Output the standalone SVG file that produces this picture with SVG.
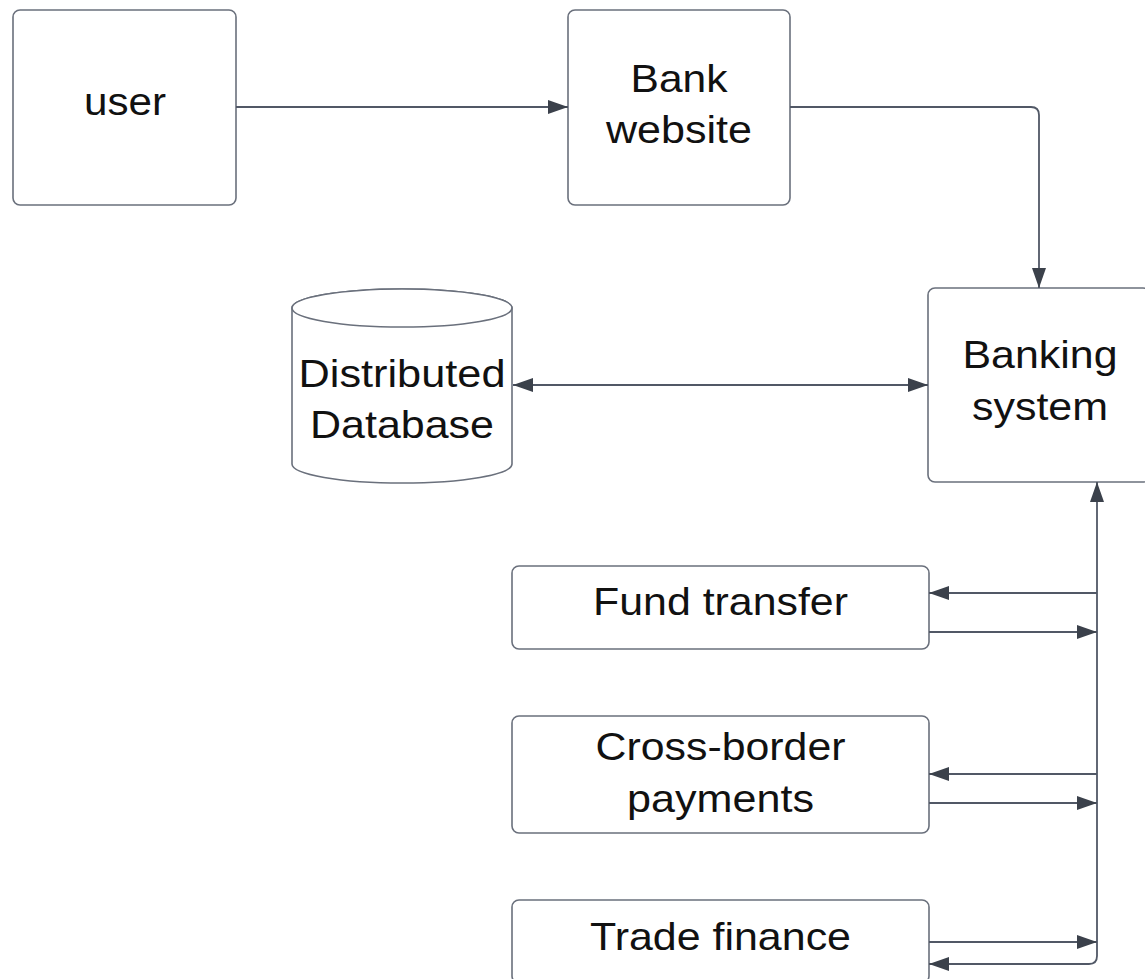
<svg xmlns="http://www.w3.org/2000/svg" width="1145" height="979" viewBox="0 0 1145 979">
  <style>
    .box { fill: #ffffff; stroke: #6a707c; stroke-width: 1.6; }
    .lbl { font-family: "Liberation Sans", Arial, sans-serif; font-size: 39px; fill: #111111; text-anchor: middle; }
    .wire { fill: none; stroke: #515866; stroke-width: 1.8; }
  </style>
  <defs>
    <marker id="arrow" viewBox="0 0 20 14" refX="20" refY="7" markerWidth="20" markerHeight="14" markerUnits="userSpaceOnUse" orient="auto-start-reverse">
      <path d="M0,0 L20,7 L0,14 Z" fill="#3b414b"/>
    </marker>
  </defs>
  <rect width="1145" height="979" fill="#ffffff"/>

  <g id="user">
    <rect class="box" x="13" y="10" width="223" height="195" rx="7"/>
    <text class="lbl" x="125" y="115" textLength="82" lengthAdjust="spacingAndGlyphs">user</text>
  </g>

  <g id="bank-website">
    <rect class="box" x="568" y="10" width="222" height="195" rx="7"/>
    <text class="lbl" x="679" y="92" textLength="97" lengthAdjust="spacingAndGlyphs">Bank</text>
    <text class="lbl" x="679" y="143" textLength="146" lengthAdjust="spacingAndGlyphs">website</text>
  </g>

  <g id="banking-system">
    <rect class="box" x="928" y="288" width="222" height="194" rx="7"/>
    <text class="lbl" x="1040" y="368" textLength="155" lengthAdjust="spacingAndGlyphs">Banking</text>
    <text class="lbl" x="1040" y="420" textLength="136" lengthAdjust="spacingAndGlyphs">system</text>
  </g>

  <g id="distributed-database">
    <path class="box" d="M292,308 L292,464 A110,19 0 0 0 512,464 L512,308 A110,19 0 0 0 292,308 Z"/>
    <ellipse class="box" cx="402" cy="308" rx="110" ry="19"/>
    <text class="lbl" x="402" y="387" textLength="207" lengthAdjust="spacingAndGlyphs">Distributed</text>
    <text class="lbl" x="402" y="438" textLength="184" lengthAdjust="spacingAndGlyphs">Database</text>
  </g>

  <g id="fund-transfer">
    <rect class="box" x="512" y="566" width="417" height="83" rx="7"/>
    <text class="lbl" x="720.5" y="615" textLength="255" lengthAdjust="spacingAndGlyphs">Fund transfer</text>
  </g>

  <g id="cross-border-payments">
    <rect class="box" x="512" y="716" width="417" height="117" rx="7"/>
    <text class="lbl" x="720.5" y="760" textLength="250" lengthAdjust="spacingAndGlyphs">Cross-border</text>
    <text class="lbl" x="720.5" y="812" textLength="187" lengthAdjust="spacingAndGlyphs">payments</text>
  </g>

  <g id="trade-finance">
    <rect class="box" x="512" y="900" width="417" height="83" rx="7"/>
    <text class="lbl" x="720.5" y="950" textLength="261" lengthAdjust="spacingAndGlyphs">Trade finance</text>
  </g>

  <g id="connectors">
    <path class="wire" d="M236,107 L568,107" marker-end="url(#arrow)"/>
    <path class="wire" d="M790,107 L1031,107 Q1039,107 1039,115 L1039,288" marker-end="url(#arrow)"/>
    <path class="wire" d="M513,385 L928,385" marker-start="url(#arrow)" marker-end="url(#arrow)"/>
    <!-- shared bus from the bottom loop up into the banking system -->
    <path class="wire" d="M929,964 L1089,964 Q1097,964 1097,956 L1097,482" marker-start="url(#arrow)" marker-end="url(#arrow)"/>
    <path class="wire" d="M1097,593 L929,593" marker-end="url(#arrow)"/>
    <path class="wire" d="M929,632 L1097,632" marker-end="url(#arrow)"/>
    <path class="wire" d="M1097,774 L929,774" marker-end="url(#arrow)"/>
    <path class="wire" d="M929,803 L1097,803" marker-end="url(#arrow)"/>
    <path class="wire" d="M929,942 L1097,942" marker-end="url(#arrow)"/>
  </g>
</svg>
